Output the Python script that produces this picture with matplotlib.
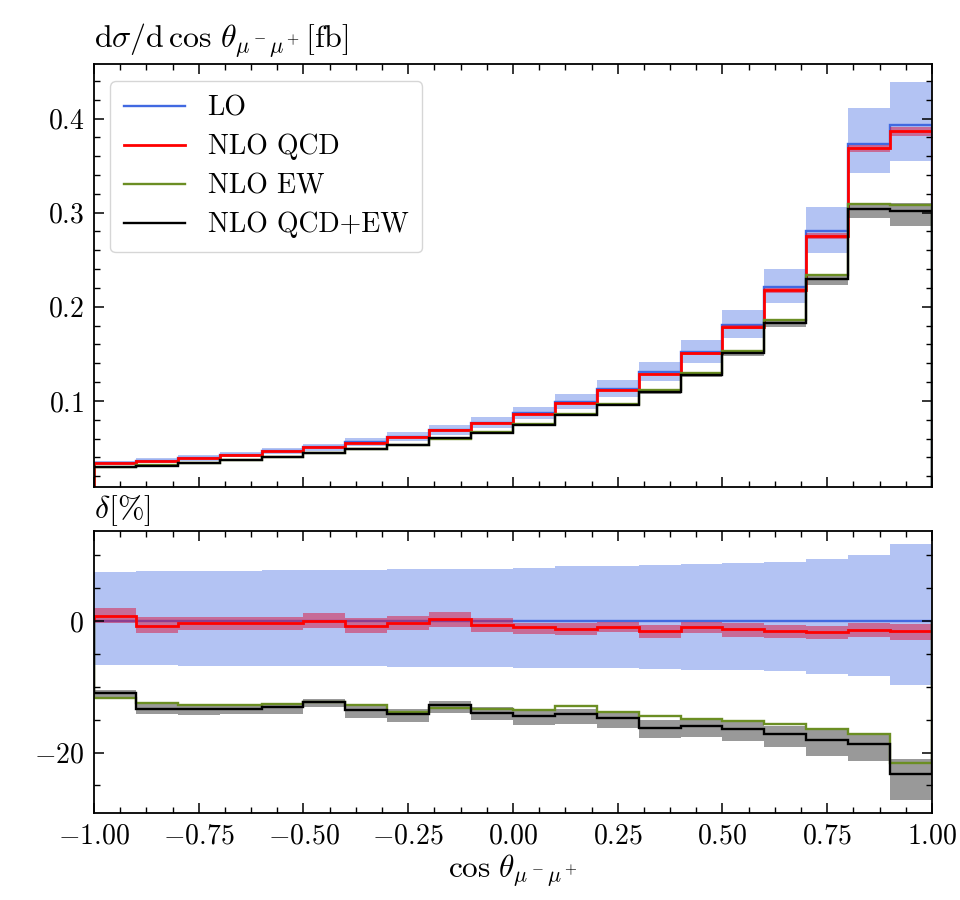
import numpy as np
import matplotlib
matplotlib.use("Agg")
import matplotlib.pyplot as plt
from matplotlib.ticker import MultipleLocator, AutoMinorLocator

plt.rcParams.update({
    "font.family": "serif",
    "font.serif": ["cmr10"],
    "mathtext.fontset": "cm",
    "axes.formatter.use_mathtext": True,
    "axes.linewidth": 1.3,
    "font.size": 20,
})

# bin edges in cos(theta)
edges = np.linspace(-1.0, 1.0, 21)

# LO cross section per bin [fb]
lo = [0.0336, 0.0361, 0.0390, 0.0428, 0.0466, 0.0506, 0.0562, 0.0617, 0.0690, 0.0768,
      0.0869, 0.0989, 0.1127, 0.1305, 0.1520, 0.1808, 0.2208, 0.2800, 0.3735, 0.3930]

# relative deviations w.r.t. LO [%]
lo_up = [7.48, 7.54, 7.60, 7.65, 7.70, 7.75, 7.80, 7.85, 7.90, 7.98,
         8.14, 8.30, 8.40, 8.55, 8.65, 8.80, 8.96, 9.40, 10.0, 11.7]
lo_dn = [-6.70, -6.73, -6.77, -6.80, -6.83, -6.87, -6.90, -6.93, -6.97, -7.00,
         -7.07, -7.10, -7.20, -7.30, -7.40, -7.50, -7.60, -8.00, -8.40, -9.70]

d_qcd = [0.76, -0.71, -0.35, -0.35, -0.35, 0.00, -0.76, -0.25, 0.30, -0.60,
         -0.97, -1.17, -0.87, -1.58, -0.97, -1.27, -1.48, -1.68, -1.37, -1.50]
d_qcd_up = [1.93, 0.56, 0.56, 0.56, 0.56, 1.17, 0.41, 0.76, 1.42, 0.41,
            -0.25, -0.36, -0.15, -0.61, -0.15, -0.36, -0.61, -0.76, -0.36, -0.40]
d_qcd_dn = [-0.36, -1.78, -1.37, -1.37, -1.37, -1.12, -1.78, -1.37, -0.87, -1.63,
            -1.98, -2.14, -1.73, -2.55, -1.88, -2.39, -2.55, -2.70, -2.39, -2.95]

d_ew = [-11.70, -12.47, -12.82, -12.72, -12.57, -12.30, -12.72, -13.84, -13.23, -13.33,
        -13.49, -12.93, -13.84, -14.50, -14.96, -15.22, -15.62, -16.49, -17.25, -21.58]

d_qcdew = [-10.94, -13.33, -13.43, -13.33, -13.08, -12.32, -13.59, -14.20, -12.82, -13.94,
           -14.45, -14.10, -14.76, -16.24, -15.99, -16.49, -17.25, -18.17, -18.68, -23.26]
d_qcdew_up = [-10.43, -12.57, -12.82, -12.82, -12.57, -11.81, -12.82, -13.33, -12.16, -13.08,
              -13.59, -13.33, -13.84, -15.11, -14.96, -15.37, -16.03, -16.64, -17.15, -21.00]
d_qcdew_dn = [-11.81, -14.20, -14.35, -14.20, -14.10, -13.08, -14.71, -15.37, -14.00, -15.00,
              -15.78, -15.62, -16.24, -17.81, -17.66, -18.27, -19.19, -20.46, -21.22, -27.30]

labels = ["LO", "NLO QCD", "NLO EW", "NLO QCD+EW"]
c_lo, c_qcd, c_ew, c_qe = "royalblue", "red", "olivedrab", "black"

lo_a = np.array(lo)
def absval(d):
    return lo_a * (1.0 + np.array(d) / 100.0)

fig = plt.figure(figsize=(9.6, 9.0), dpi=100)
ax1 = fig.add_axes([0.0979, 0.4589, 0.8729, 0.4700])
ax2 = fig.add_axes([0.0979, 0.0967, 0.8729, 0.3133])

# ---- top panel
ax1.stairs(absval(lo_up), edges, baseline=absval(lo_dn), fill=True, color=c_lo, alpha=0.4, lw=0)
ax1.stairs(lo_a, edges, color=c_lo, lw=1.7, label=labels[0])
ax1.stairs(absval(d_qcd_up), edges, baseline=absval(d_qcd_dn), fill=True, color="crimson", alpha=0.5, lw=0)
ax1.stairs(absval(d_qcd), edges, color=c_qcd, lw=2.0, label=labels[1])
ax1.stairs(absval(d_qcdew_up), edges, baseline=absval(d_qcdew_dn), fill=True, color="black", alpha=0.4, lw=0)
ax1.stairs(absval(d_ew), edges, color=c_ew, lw=1.7, label=labels[2])
ax1.stairs(absval(d_qcdew), edges, color=c_qe, lw=1.7, label=labels[3])

# ---- bottom panel
ax2.stairs(np.array(lo_up), edges, baseline=np.array(lo_dn), fill=True, color=c_lo, alpha=0.4, lw=0)
ax2.stairs(np.zeros(20), edges, color=c_lo, lw=1.7)
ax2.stairs(np.array(d_qcd_up), edges, baseline=np.array(d_qcd_dn), fill=True, color="crimson", alpha=0.5, lw=0)
ax2.stairs(np.array(d_qcd), edges, color=c_qcd, lw=2.0)
ax2.stairs(np.array(d_qcdew_up), edges, baseline=np.array(d_qcdew_dn), fill=True, color="black", alpha=0.4, lw=0)
ax2.stairs(np.array(d_ew), edges, color=c_ew, lw=1.7)
ax2.stairs(np.array(d_qcdew), edges, color=c_qe, lw=1.7)

for ax in (ax1, ax2):
    ax.set_xlim(-1, 1)
    ax.xaxis.set_major_locator(MultipleLocator(0.25))
    ax.xaxis.set_minor_locator(AutoMinorLocator(4))
    ax.tick_params(which="both", direction="in", top=True, right=True, labelsize=20, pad=7)
    ax.tick_params(which="major", length=7, width=1.1)
    ax.tick_params(which="minor", length=4, width=1.0)

ax1.set_ylim(0.0085, 0.458)
ax1.yaxis.set_major_locator(MultipleLocator(0.1))
ax1.yaxis.set_minor_locator(AutoMinorLocator(5))
ax1.tick_params(labelbottom=False)

ax2.set_ylim(-29.2, 13.7)
ax2.yaxis.set_major_locator(MultipleLocator(20))
ax2.yaxis.set_minor_locator(AutoMinorLocator(4))

ax1.text(0.0, 1.04, r"$\mathrm{d}\sigma/\mathrm{d}\,\cos\,\theta_{\mu^-\mu^+}[\mathrm{fb}]$",
         transform=ax1.transAxes, ha="left", va="baseline", fontsize=23)
ax2.text(0.0, 1.045, r"$\delta[\%]$", transform=ax2.transAxes, ha="left", va="baseline", fontsize=23)
ax2.set_xlabel(r"$\cos\,\theta_{\mu^-\mu^+}$", fontsize=22.5, labelpad=3)

ax1.legend(loc="upper left", fontsize=20, handlelength=2.2, borderpad=0.5, labelspacing=0.45,
           bbox_to_anchor=(0.003, 0.992))

fig.savefig("out.png", dpi=100)
